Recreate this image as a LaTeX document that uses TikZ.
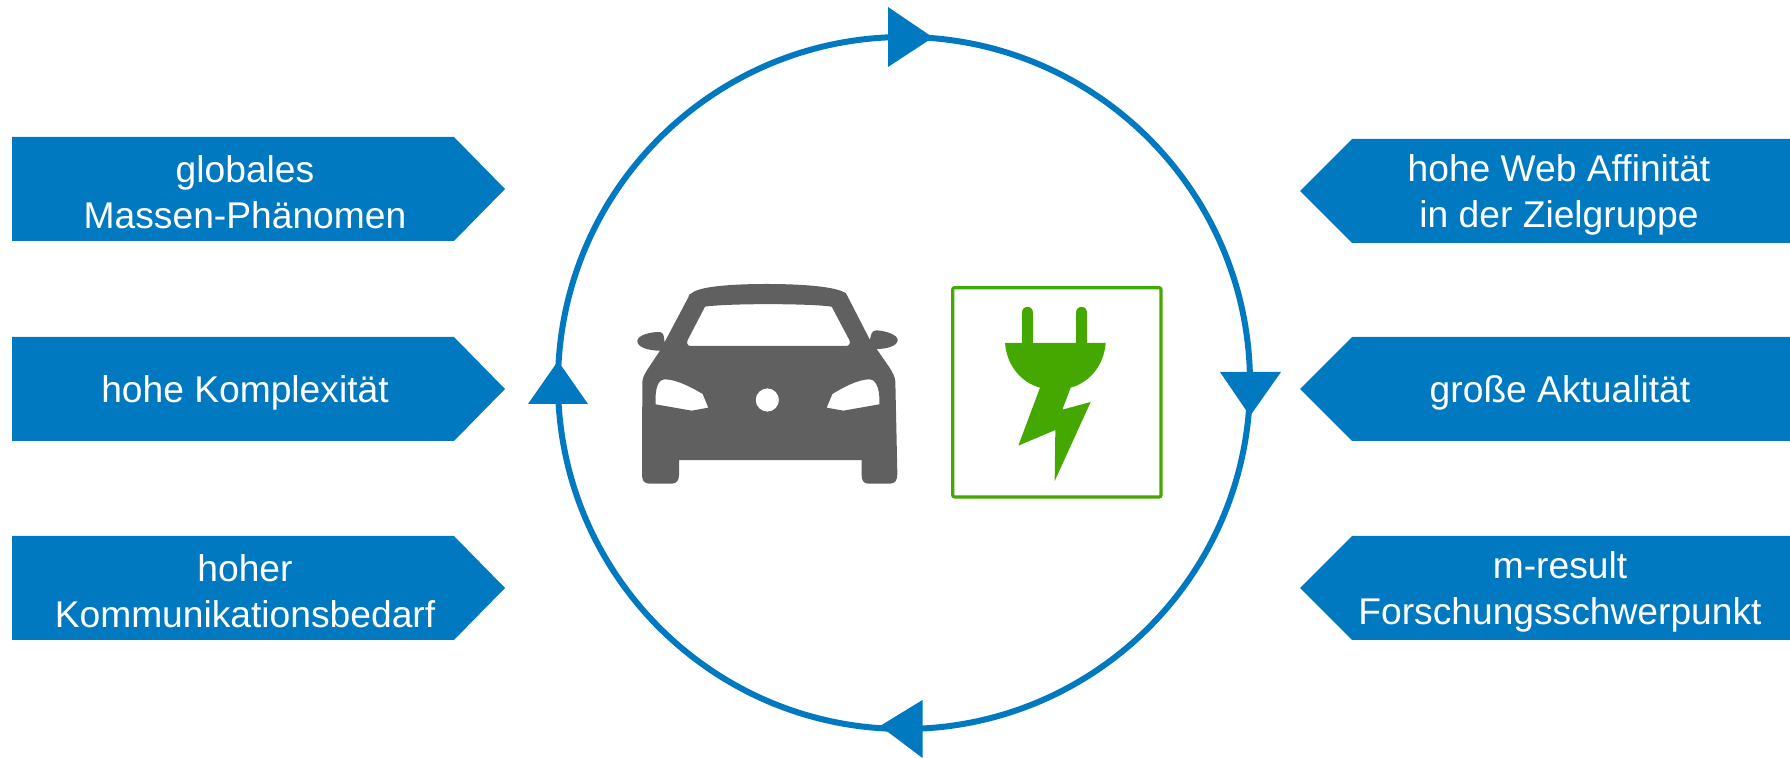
\documentclass[tikz,border=0pt]{standalone}
\usepackage{fontspec}
\setmainfont{Liberation Sans}
\definecolor{ringblue}{HTML}{0079C1}
\definecolor{cargray}{HTML}{606060}
\definecolor{plugreen}{HTML}{44A800}
\tikzset{
  tagtext/.style={text=white, align=center, font=\fontsize{18.6}{23}\selectfont, inner sep=0pt},
  ringline/.style={draw=ringblue, line width=3pt},
  ringhead/.style={fill=ringblue}
}
\begin{document}
\begin{tikzpicture}[x=0.5pt, y=-0.5pt]
  \useasboundingbox (0,0) rectangle (1790,758);

  % Ring
  \draw[ringline] (904,383) circle [radius=346];
  \fill[ringhead] (888,7) -- (933,37.5) -- (888,67) -- cycle;
  \fill[ringhead] (1220,372) -- (1250,416) -- (1281,372) -- cycle;
  \fill[ringhead] (922.5,700) -- (880,726) -- (922.5,758) -- cycle;
  \fill[ringhead] (528,404) -- (558,361) -- (588,404) -- cycle;

  % Left tags
  \fill[ringblue] (12,137) -- (454,137) -- (505,189) -- (454,241) -- (12,241) -- cycle;
  \node[tagtext] (globales) at (245,192) {globales\\Massen-Phänomen};
  \fill[ringblue] (12,337) -- (454,337) -- (505,389) -- (454,441) -- (12,441) -- cycle;
  \node[tagtext] (komplex) at (245,393) {hohe Komplexität};
  \fill[ringblue] (12,536) -- (454,536) -- (505,588) -- (454,640) -- (12,640) -- cycle;
  \node[tagtext] (bedarf) at (245,591) {hoher\\Kommunikationsbedarf};

  % Right tags
  \fill[ringblue] (1790,139) -- (1352,139) -- (1300,191) -- (1352,243) -- (1790,243) -- cycle;
  \node[tagtext] (web) at (1559,195) {hohe Web Affinität\\in der Zielgruppe};
  \fill[ringblue] (1790,337) -- (1352,337) -- (1300,389) -- (1352,441) -- (1790,441) -- cycle;
  \node[tagtext] (aktuell) at (1560,393) {große Aktualität};
  \fill[ringblue] (1790,536) -- (1352,536) -- (1300,588) -- (1352,640) -- (1790,640) -- cycle;
  \node[tagtext] (forschung) at (1560,592) {m-result\\Forschungsschwerpunkt};

  % Car
  \begin{scope}[shift={(620,260)}, x=0.16667pt, y=-0.16667pt]
    \fill[cargray, even odd rule]
      (215,100) .. controls (235,80) and (330,72) .. (440,72)
      .. controls (550,72) and (650,80) .. (678,100)
      -- (750,240) .. controls (752,225) and (755,210) .. (770,211)
      .. controls (800,213) and (833,225) .. (833,240)
      .. controls (833,258) and (800,267) .. (770,267)
      -- (808,322) .. controls (818,338) and (825,350) .. (826,365)
      -- (832,640) .. controls (833,660) and (825,671) .. (810,671)
      -- (745,671) .. controls (730,671) and (725,660) .. (725,645)
      -- (725,600) -- (177,600) -- (177,645)
      .. controls (177,660) and (170,671) .. (155,671)
      -- (88,671) .. controls (72,671) and (66,660) .. (66,645)
      -- (67,365) .. controls (68,350) and (78,335) .. (88,320)
      -- (120,272) .. controls (85,272) and (52,262) .. (52,243)
      .. controls (52,225) and (95,215) .. (120,216)
      .. controls (132,217) and (133,235) .. (133,248)
      -- (205,112) .. controls (208,102) and (210,100) .. (215,100) -- cycle
      % windshield
      (255,140) .. controls (320,130) and (570,130) .. (635,140)
      -- (688,240) .. controls (692,250) and (688,258) .. (678,258)
      -- (212,258) .. controls (203,258) and (199,250) .. (203,240) -- cycle
      % headlights
      (107,433) .. controls (105,395) and (110,358) .. (135,358)
      .. controls (170,358) and (220,385) .. (248,402)
      -- (265,443) -- (215,452) -- cycle
      (778,433) .. controls (780,395) and (772,358) .. (748,358)
      .. controls (712,358) and (665,385) .. (637,402)
      -- (620,443) -- (670,452) -- cycle
      (442,420) circle [radius=35];
  \end{scope}

  % Plug
  \begin{scope}[shift={(940,275)}, x=0.16667pt, y=-0.16667pt]
    \draw[plugreen, line width=1.6pt, rounded corners=1pt] (38,38) rectangle (663,666);
    \draw[plugreen, line width=5.8pt, line cap=round] (262.5,113) -- (262.5,204);
    \draw[plugreen, line width=5.8pt, line cap=round] (424.5,113) -- (424.5,204);
    \fill[plugreen]
      (195,204) -- (497,204)
      .. controls (492,270) and (450,322) .. (392,338)
      -- (367,404) -- (452,381) -- (344,618) -- (346,465) -- (235,512) -- (300,338)
      .. controls (242,322) and (200,270) .. (195,204) -- cycle;
  \end{scope}
\end{tikzpicture}
\end{document}
